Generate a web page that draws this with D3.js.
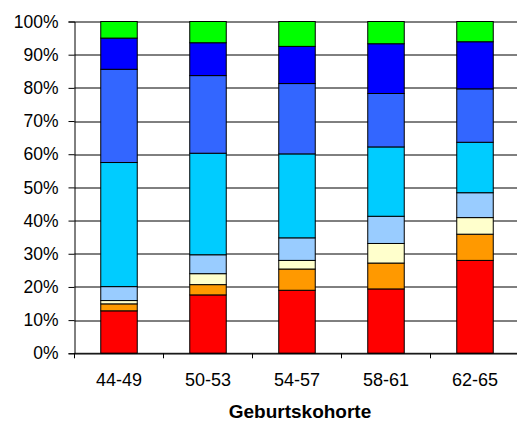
<!DOCTYPE html>
<html>
<head>
<meta charset="utf-8">
<script src="https://cdn.jsdelivr.net/npm/d3@7"></script>
<style>
  body { margin: 0; background: #fff; }
  text { font-family: "Liberation Sans", Arial, sans-serif; }
</style>
</head>
<body>
<div id="chart"></div>
<script>
// Geburtskohorten (x-Achse)
const cohorts = ["44-49", "50-53", "54-57", "58-61", "62-65"];

// Anteile in % je Segment, von unten nach oben
const s1 = [12.8, 17.6, 19.0, 19.4, 28.0];
const s2 = [2.1, 3.1, 6.4, 7.8, 7.9];
const s3 = [1.0, 3.3, 2.6, 5.9, 5.0];
const s4 = [4.2, 5.7, 6.8, 8.2, 7.5];
const s5 = [37.4, 30.6, 25.3, 20.9, 15.2];
const s6 = [28.1, 23.4, 21.2, 16.1, 16.1];
const s7 = [9.4, 9.9, 11.2, 15.0, 14.2];
const s8 = [5.0, 6.4, 7.5, 6.7, 6.1];

const seriesList = [s1, s2, s3, s4, s5, s6, s7, s8];
const colors = ["#ff0000", "#ff9900", "#ffffcc", "#99ccff", "#00ccff", "#3366ff", "#0000ff", "#00ff00"];
const yTicks = [0, 0.1, 0.2, 0.3, 0.4, 0.5, 0.6, 0.7, 0.8, 0.9, 1.0];

const W = 517, H = 423;
const margin = {top: 21.5, right: 0, bottom: 69.7, left: 74.5};
const width = 445;
const height = H - margin.top - margin.bottom;

const svg = d3.select("#chart").append("svg")
    .attr("width", W)
    .attr("height", H);

const g = svg.append("g")
    .attr("transform", `translate(${margin.left},${margin.top})`);

const x = d3.scaleBand().domain(cohorts).range([0, width]).paddingInner(0.59).paddingOuter(0.295);
const y = d3.scaleLinear().domain([0, 1]).range([height, 0]);

// Tabelle für d3.stack bauen (normalisiert auf 100%)
const keys = seriesList.map((s, i) => "k" + i);
const table = cohorts.map((c, j) => {
    const row = {cohort: c};
    const total = d3.sum(seriesList, s => s[j]);
    seriesList.forEach((s, i) => { row["k" + i] = s[j] / total; });
    return row;
});
const stacked = d3.stack().keys(keys)(table);

// Gitterlinien
g.append("g")
    .selectAll("line")
    .data(yTicks)
    .enter().append("line")
      .attr("x1", 0)
      .attr("x2", width)
      .attr("y1", d => Math.round(y(d)) + 0.5)
      .attr("y2", d => Math.round(y(d)) + 0.5)
      .attr("stroke", "#000")
      .attr("stroke-width", 1);

// Balken
g.selectAll(".layer")
    .data(stacked)
    .enter().append("g")
      .attr("class", "layer")
      .attr("fill", (d, i) => colors[i])
    .selectAll("rect")
    .data(d => d)
    .enter().append("rect")
      .attr("x", d => x(d.data.cohort))
      .attr("width", x.bandwidth())
      .attr("y", d => y(d[1]))
      .attr("height", d => y(d[0]) - y(d[1]))
      .attr("stroke", "#000")
      .attr("stroke-width", 1);

// y-Achse
const yAxis = g.append("g")
    .call(d3.axisLeft(y).tickValues(yTicks).tickFormat(d3.format(".0%")).tickSize(6).tickPadding(10));
yAxis.select(".domain").attr("stroke", "#000");
yAxis.selectAll("text").style("font-size", "17.5px").attr("fill", "#000");

// x-Achse
const xAxisScale = d3.scalePoint().domain(d3.range(cohorts.length + 1)).range([0, width]);
const xAxis = g.append("g")
    .attr("transform", `translate(0,${height})`);
xAxis.append("line")
    .attr("x1", 0).attr("x2", width)
    .attr("y1", 0).attr("y2", 0)
    .attr("stroke", "#000");
xAxis.selectAll(".tick")
    .data(d3.range(cohorts.length + 1))
    .enter().append("line")
      .attr("x1", d => xAxisScale(d))
      .attr("x2", d => xAxisScale(d))
      .attr("y1", 0).attr("y2", 5)
      .attr("stroke", "#000");
xAxis.selectAll(".lbl")
    .data(cohorts)
    .enter().append("text")
      .attr("x", d => x(d) + x.bandwidth() / 2)
      .attr("y", 33)
      .attr("text-anchor", "middle")
      .style("font-size", "18px")
      .text(d => d);

// Achsentitel
svg.append("text")
    .attr("x", 300)
    .attr("y", 418)
    .attr("text-anchor", "middle")
    .style("font-size", "19px")
    .style("font-weight", "bold")
    .text("Geburtskohorte");
</script>
</body>
</html>
